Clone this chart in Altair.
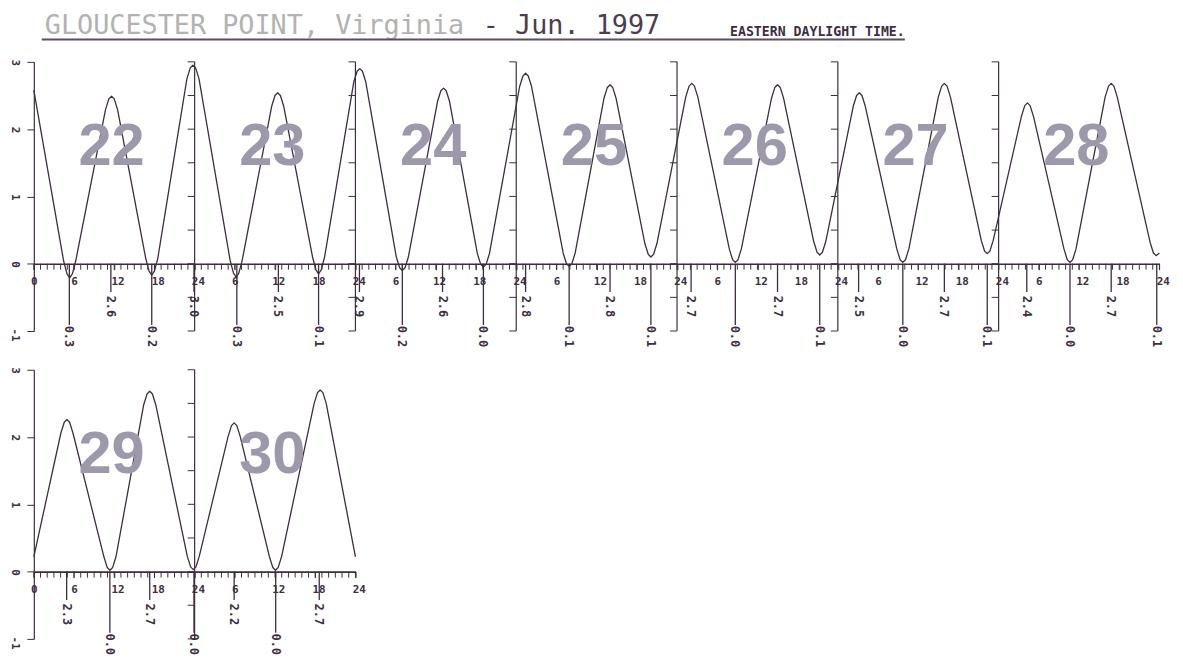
import altair as alt
import pandas as pd

# ------------------------------------------------------------------ data
# GLOUCESTER POINT, Virginia - Jun. 1997 (Eastern Daylight Time), tide heights in feet
TITLE_PLACE = "GLOUCESTER POINT, Virginia"
TITLE_DATE = "- Jun. 1997"
TITLE_TZ = "EASTERN DAYLIGHT TIME."

row1_days = [22, 23, 24, 25, 26, 27, 28]
row2_days = [29, 30]

# water level; hours counted from 0:00 of the row's first day
row1_hours = [0,
              4.45, 4.95, 5.35, 5.75, 6.25,
              10.7, 11.2, 11.6, 12.0, 12.5,
              16.7, 17.2, 17.6, 18.0, 18.5,
              22.85, 23.35, 23.75, 24.15, 24.65,
              29.3, 29.8, 30.2, 30.6, 31.1,
              35.5, 36.0, 36.4, 36.8, 37.3,
              41.6, 42.1, 42.5, 42.9, 43.4,
              47.75, 48.25, 48.65, 49.05, 49.55,
              54.1, 54.6, 55.0, 55.4, 55.9,
              60.25, 60.75, 61.15, 61.55, 62.05,
              66.2, 66.7, 67.1, 67.5, 68.0,
              72.5, 73.0, 73.4, 73.8, 74.3,
              79.0, 79.5, 79.9, 80.3, 80.8,
              85.1, 85.6, 86.0, 86.4, 86.9,
              91.2, 91.7, 92.1, 92.5, 93.0,
              97.3, 97.8, 98.2, 98.6, 99.1,
              103.8, 104.3, 104.7, 105.1, 105.6,
              110.1, 110.6, 111.0, 111.4, 111.9,
              116.4, 116.9, 117.3, 117.7, 118.2,
              122.3, 122.8, 123.2, 123.6, 124.1,
              128.8, 129.3, 129.7, 130.1, 130.6,
              135.0, 135.5, 135.9, 136.3, 136.8,
              141.4, 141.9, 142.3, 142.7, 143.2,
              147.4, 147.9, 148.3, 148.7, 149.2,
              153.75, 154.25, 154.65, 155.05, 155.55,
              159.9, 160.4, 160.8, 161.2, 161.7,
              166.6, 167.1, 167.5,
              168]
row1_levels = [2.58,
               0.04, -0.15, -0.21, -0.15, 0.04,
               2.29, 2.45, 2.49, 2.45, 2.29,
               0.08, -0.11, -0.17, -0.11, 0.08,
               2.75, 2.91, 2.95, 2.91, 2.75,
               0.05, -0.14, -0.20, -0.14, 0.05,
               2.34, 2.50, 2.54, 2.50, 2.34,
               0.10, -0.09, -0.15, -0.09, 0.10,
               2.70, 2.86, 2.90, 2.86, 2.70,
               0.10, -0.06, -0.10, -0.06, 0.10,
               2.41, 2.57, 2.61, 2.57, 2.41,
               0.15, -0.01, -0.05, -0.01, 0.15,
               2.63, 2.79, 2.83, 2.79, 2.63,
               0.16, 0.00, -0.04, 0.00, 0.16,
               2.46, 2.62, 2.66, 2.62, 2.46,
               0.30, 0.14, 0.10, 0.14, 0.30,
               2.48, 2.64, 2.68, 2.64, 2.48,
               0.22, 0.06, 0.02, 0.06, 0.22,
               2.46, 2.62, 2.66, 2.62, 2.46,
               0.33, 0.17, 0.13, 0.17, 0.33,
               2.34, 2.50, 2.54, 2.50, 2.34,
               0.22, 0.06, 0.02, 0.06, 0.22,
               2.48, 2.64, 2.68, 2.64, 2.48,
               0.35, 0.19, 0.15, 0.19, 0.35,
               2.19, 2.35, 2.39, 2.35, 2.19,
               0.22, 0.06, 0.02, 0.06, 0.22,
               2.48, 2.64, 2.68, 2.64, 2.48,
               0.32, 0.16, 0.12,
               0.16]

row2_hours = [0,
              4.04, 4.54, 4.94, 5.34, 5.84,
              10.46, 10.96, 11.36, 11.76, 12.26,
              16.4, 16.9, 17.3, 17.7, 18.2,
              22.9, 23.4, 23.8, 24.2, 24.7,
              29.0, 29.5, 29.9, 30.3, 30.8,
              35.17, 35.67, 36.07, 36.47, 36.97,
              41.84, 42.34, 42.74, 43.14, 43.64,
              48]
row2_levels = [0.22,
               2.06, 2.22, 2.26, 2.22, 2.06,
               0.22, 0.06, 0.02, 0.06, 0.22,
               2.48, 2.64, 2.68, 2.64, 2.48,
               0.23, 0.07, 0.03, 0.07, 0.23,
               2.01, 2.17, 2.21, 2.17, 2.01,
               0.22, 0.06, 0.02, 0.06, 0.22,
               2.50, 2.66, 2.70, 2.66, 2.50,
               0.22]

# high / low tide annotations
row1_tide_hours = [5.3, 11.5, 17.6, 23.9,
                   30.3, 36.5, 42.5,
                   48.6, 55.0, 61.0, 67.1,
                   73.4, 79.9, 86.0, 92.1,
                   98.1, 104.7, 111.0, 117.3,
                   123.1, 129.7, 135.9, 142.3,
                   148.2, 154.65, 160.8, 167.6]
row1_tide_texts = ["0.3", "2.6", "0.2", "3.0",
                   "0.3", "2.5", "0.1",
                   "2.9", "0.2", "2.6", "0.0",
                   "2.8", "0.1", "2.8", "0.1",
                   "2.7", "0.0", "2.7", "0.1",
                   "2.5", "0.0", "2.7", "0.1",
                   "2.4", "0.0", "2.7", "0.1"]
row1_tide_kinds = ["L", "H", "L", "H",
                   "L", "H", "L",
                   "H", "L", "H", "L",
                   "H", "L", "H", "L",
                   "H", "L", "H", "L",
                   "H", "L", "H", "L",
                   "H", "L", "H", "L"]

row2_tide_hours = [4.9, 11.35, 17.3, 23.9, 29.9, 36.1, 42.6]
row2_tide_texts = ["2.3", "0.0", "2.7", "0.0", "2.2", "0.0", "2.7"]
row2_tide_kinds = ["H", "L", "H", "L", "H", "L", "H"]

Y_TICKS = [-1, -0.5, 0, 0.5, 1, 1.5, 2, 2.5, 3]

# ------------------------------------------------------------------ style
INK = "#3d2d3f"
NUM_GRAY = "#9d99ab"
TITLE_GRAY = "#b2b2b2"
TITLE_INK = "#4d3d4f"
RULE_INK = "#5d4d5f"
MONO = "DejaVu Sans Mono"
NUM_FONT = "Liberation Sans Narrow, Liberation Sans, sans-serif"
PX_PER_HOUR = 6.746
PLOT_H = 271
DAY_LABEL_HOUR = 11.6
DAY_LABEL_LEVEL = 1.47


def tide_row(days, hours, levels, t_hours, t_texts, t_kinds, with_title):
    n = len(days)
    span = 24 * n
    xs = alt.Scale(domain=[0, span], nice=False, zero=False)
    ys = alt.Scale(domain=[-1, 3], nice=False, zero=False)

    x_lab = ("datum.value == 0 ? '0' : "
             "(datum.value % 24 == 0 ? '24' : '' + (datum.value % 24))")
    x_axis = alt.Axis(values=list(range(0, span + 1, 6)), title=None, grid=False,
                      offset=-PLOT_H / 4, domainColor=INK, domainWidth=1.6,
                      tickColor=INK, tickSize=6, tickWidth=1,
                      labelExpr=x_lab, labelFont=MONO, labelFontSize=11,
                      labelFontWeight="bold", labelColor=INK, labelAlign="left",
                      labelBaseline="top", labelOffset=-3.3, labelPadding=6,
                      labelOverlap=False, labelFlush=False, zindex=1)
    y_axis = alt.Axis(values=Y_TICKS, title=None, grid=False,
                      domainColor=INK, domainWidth=1.2, tickColor=INK,
                      tickSize=7, tickWidth=1,
                      labelExpr="datum.value % 1 == 0 ? '' + datum.value : ''",
                      labelFont=MONO, labelFontSize=11, labelFontWeight="bold",
                      labelColor=INK, labelAngle=90, labelAlign="left",
                      labelBaseline="middle", labelOffset=-3, labelPadding=12,
                      labelOverlap=False, labelFlush=False, zindex=1)

    curve_df = pd.DataFrame({"h": hours, "v": levels})
    line = alt.Chart(curve_df).mark_line(
        interpolate="linear", color=INK, strokeWidth=1.3, strokeJoin="round").encode(
        x=alt.X("h:Q", scale=xs, axis=x_axis),
        y=alt.Y("v:Q", scale=ys, axis=y_axis))

    num_df = pd.DataFrame({"day": [str(d) for d in days],
                           "h": [24 * i + DAY_LABEL_HOUR for i in range(n)],
                           "v": [DAY_LABEL_LEVEL] * n})
    nums = alt.Chart(num_df).mark_text(
        font=NUM_FONT, fontSize=60, fontWeight="bold", color=NUM_GRAY,
        align="center", baseline="alphabetic").encode(
        x=alt.X("h:Q"), y=alt.Y("v:Q"), text="day:N")

    # hourly ticks under the zero line
    hr_df = pd.DataFrame({"h": list(range(span + 1))})
    hr_df["z"] = 0.0
    hrs = alt.Chart(hr_df).mark_rule(color=INK, strokeWidth=1, y2Offset=6).encode(
        x=alt.X("h:Q"), y=alt.Y("z:Q"), y2="z:Q")

    bounds = [24 * i for i in range(1, n)]
    bnd_df = pd.DataFrame({"b": bounds, "lo": [-1] * len(bounds), "hi": [3] * len(bounds)})
    bnd = alt.Chart(bnd_df).mark_rule(color=INK, strokeWidth=1.2).encode(
        x=alt.X("b:Q"), y=alt.Y("lo:Q"), y2="hi:Q")
    tk_df = pd.DataFrame([(b, v) for b in bounds for v in Y_TICKS], columns=["b", "v"])
    tks = alt.Chart(tk_df).mark_rule(color=INK, strokeWidth=1, x2Offset=-7).encode(
        x=alt.X("b:Q"), x2="b:Q", y=alt.Y("v:Q"))

    tide_df = pd.DataFrame({"h": t_hours, "txt": t_texts, "kind": t_kinds})
    tide_df["top"] = 0.0
    tide_df["end"] = [-0.42 if k == "H" else -0.91 for k in t_kinds]
    tide_df["ty"] = [-0.475 if k == "H" else -0.92 for k in t_kinds]
    stems = alt.Chart(tide_df).mark_rule(color=INK, strokeWidth=1.3).encode(
        x=alt.X("h:Q"), y=alt.Y("top:Q"), y2="end:Q")
    labels = alt.Chart(tide_df).mark_text(
        angle=90, align="left", baseline="middle", font=MONO, fontSize=12,
        fontWeight="bold", color=INK).encode(
        x=alt.X("h:Q"), y=alt.Y("ty:Q"), text="txt:N")

    layers = [line, nums, hrs, bnd, tks, stems, labels]

    if with_title:
        t_df = pd.DataFrame({"a": [TITLE_PLACE], "b": [TITLE_DATE], "c": [TITLE_TZ]})
        t1 = alt.Chart(t_df).mark_text(align="left", baseline="alphabetic", font=MONO,
                                       fontSize=27, color=TITLE_GRAY).encode(
            x=alt.value(11), y=alt.value(-27.7), text="a:N")
        t2 = alt.Chart(t_df).mark_text(align="left", baseline="alphabetic", font=MONO,
                                       fontSize=27, color=TITLE_INK).encode(
            x=alt.value(452), y=alt.value(-27.7), text="b:N")
        t3 = alt.Chart(t_df).mark_text(align="left", baseline="alphabetic", font=MONO,
                                       fontSize=13.3, fontWeight="bold", color=INK).encode(
            x=alt.value(701), y=alt.value(-26), text="c:N")
        ul = alt.Chart(t_df).mark_rule(color=RULE_INK, strokeWidth=2).encode(
            x=alt.value(8), x2=alt.value(877), y=alt.value(-22.5))
        layers += [t1, t2, t3, ul]

    return alt.layer(*layers).properties(width=PX_PER_HOUR * span, height=PLOT_H)


row1 = tide_row(row1_days, row1_hours, row1_levels,
                row1_tide_hours, row1_tide_texts, row1_tide_kinds, True)
row2 = tide_row(row2_days, row2_hours, row2_levels,
                row2_tide_hours, row2_tide_texts, row2_tide_kinds, False)

chart = alt.vconcat(row1, row2, spacing=39, bounds="flush").properties(
    padding={"left": 2, "top": 2, "right": 5, "bottom": 0},
    background="white",
).configure_view(stroke=None)

chart.save("out.html", embed_options={"renderer": "svg", "actions": False})
